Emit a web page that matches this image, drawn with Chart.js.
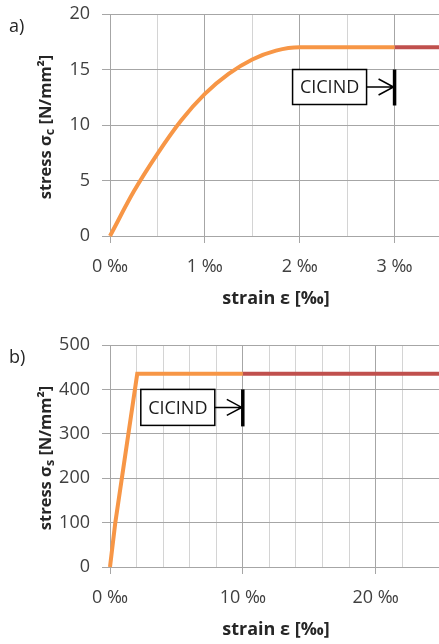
<!DOCTYPE html>
<html>
<head>
<meta charset="utf-8">
<script src="https://cdn.jsdelivr.net/npm/chart.js@4.4.1/dist/chart.umd.min.js"></script>
<style>
  html, body { margin: 0; padding: 0; background: #fff; overflow: hidden; }
  .panel { position: absolute; left: 0; }
</style>
</head>
<body>
<div class="panel" style="top:0"><canvas id="chartA" width="442" height="320"></canvas></div>
<div class="panel" style="top:320px"><canvas id="chartB" width="442" height="324"></canvas></div>
<script>
// a) concrete stress-strain (values read off the picture)
const concreteStrain = [0, 0.25, 0.5, 0.75, 1, 1.25, 1.5, 1.75, 2, 3];
const concreteStress = [0, 4.0, 7.4, 10.4, 12.8, 14.6, 15.9, 16.7, 17, 17];
const concreteTailStrain = [3, 3.5];
const concreteTailStress = [17, 17];

// b) steel stress-strain
const steelStrain = [0, 0.4, 2.05, 10];
const steelStress = [0, 100, 435, 435];
const steelTailStrain = [10, 25];
const steelTailStress = [435, 435];

// where the CICIND curve stops
const cicindLimit = [3, 10];
const cicindLabel = 'CICIND';

const unit = ' ‰';
const xTitle = 'strain ε [‰]';

const ORANGE = '#f79646';
const RED = '#c0504d';
const GRID = '#a6a6a6';
const MINOR = '#d4d4d4';
const FONT = "'Open Sans', sans-serif";

function toPoints(xs, ys) {
  return xs.map((x, i) => ({ x: x, y: ys[i] }));
}

// no auto padding from tick labels, plot box is fixed
function noPad(s) {
  s.paddingTop = 0;
  s.paddingBottom = 0;
  s.paddingLeft = 0;
  s.paddingRight = 0;
}

// draws panel letter, axis titles (with subscript) and the CICIND marker
const decorPlugin = {
  id: 'decor',
  afterDatasetsDraw(chart, args, opts) {
    const ctx = chart.ctx;
    const area = chart.chartArea;
    const xs = chart.scales.x;
    const ys = chart.scales.y;
    ctx.save();

    // CICIND box + arrow + bar
    const bx = xs.getPixelForValue(opts.limit);
    const top = ys.getPixelForValue(opts.boxTop);
    const h = opts.boxH;
    const w = 74;
    const right = bx - 28;
    const left = right - w;
    const mid = top + h / 2;
    ctx.fillStyle = '#fff';
    ctx.fillRect(left, top, w, h);
    ctx.strokeStyle = '#000';
    ctx.lineWidth = 1.5;
    ctx.strokeRect(left, top, w, h);
    ctx.fillStyle = '#1a1a1a';
    ctx.font = '18px ' + FONT;
    ctx.textAlign = 'center';
    ctx.textBaseline = 'middle';
    ctx.fillText(cicindLabel, left + w / 2, mid + 1);
    ctx.beginPath();
    ctx.moveTo(right, mid);
    ctx.lineTo(bx - 1, mid);
    ctx.moveTo(bx - 16, mid - 8);
    ctx.lineTo(bx - 1, mid);
    ctx.lineTo(bx - 16, mid + 8);
    ctx.stroke();
    ctx.lineWidth = 3.5;
    ctx.beginPath();
    ctx.moveTo(bx, top);
    ctx.lineTo(bx, top + h + 1);
    ctx.stroke();

    // panel letter
    ctx.fillStyle = '#262626';
    ctx.font = '18px ' + FONT;
    ctx.textAlign = 'left';
    ctx.fillText(opts.letter, 9, area.top + 13);

    // x title
    ctx.font = 'bold 18px ' + FONT;
    ctx.textAlign = 'center';
    ctx.fillText(xTitle, 276, area.bottom + 63);

    // y title, rotated, with subscript
    const big = 'bold 16.5px ' + FONT;
    const small = 'bold 12.5px ' + FONT;
    const parts = [['stress σ', big, 0], [opts.sub, small, 4], [' [N/mm²]', big, 0]];
    let total = 0;
    parts.forEach(p => { ctx.font = p[1]; total += ctx.measureText(p[0]).width; });
    ctx.translate(46, (area.top + area.bottom) / 2 + 2);
    ctx.rotate(-Math.PI / 2);
    ctx.textAlign = 'left';
    let cx = -total / 2;
    parts.forEach(p => {
      ctx.font = p[1];
      ctx.fillText(p[0], cx, p[2]);
      cx += ctx.measureText(p[0]).width;
    });
    ctx.restore();
  }
};

function makeChart(id, cfg) {
  return new Chart(document.getElementById(id), {
    type: 'line',
    data: {
      datasets: [
        { data: cfg.main, borderColor: ORANGE, borderWidth: 4, pointRadius: 0,
          cubicInterpolationMode: cfg.smooth ? 'monotone' : 'default', tension: 0, clip: 4, order: 1 },
        { data: cfg.tail, borderColor: RED, borderWidth: 4, pointRadius: 0, clip: 4, order: 2 }
      ]
    },
    options: {
      responsive: false,
      animation: false,
      layout: { autoPadding: false, padding: { top: cfg.padTop, left: 0, right: 0, bottom: 0 } },
      plugins: {
        legend: { display: false },
        tooltip: { enabled: false },
        decor: cfg.decor
      },
      scales: {
        x: {
          type: 'linear',
          min: 0,
          max: cfg.xMax,
          afterFit: s => { s.height = cfg.xHeight; noPad(s); },
          border: { color: GRID },
          grid: {
            color: c => cfg.isMajor(c.tick.value) ? GRID : MINOR,
            tickColor: c => cfg.isMajor(c.tick.value) ? GRID : 'rgba(0,0,0,0)',
            tickLength: 7
          },
          ticks: {
            stepSize: cfg.xStep,
            autoSkip: false,
            maxRotation: 0,
            padding: 13,
            color: '#404040',
            font: { family: FONT, size: 18 },
            callback: v => cfg.isMajor(v) && v < cfg.xMax ? Math.round(v) + unit : ''
          }
        },
        y: {
          min: 0,
          max: cfg.yMax,
          afterFit: s => { s.width = 110; noPad(s); },
          border: { color: GRID },
          grid: { color: GRID, tickColor: GRID, tickLength: 8 },
          ticks: {
            stepSize: cfg.yStep,
            padding: 12,
            color: '#404040',
            font: { family: FONT, size: 18 }
          }
        }
      }
    },
    plugins: [decorPlugin]
  });
}

makeChart('chartA', {
  main: toPoints(concreteStrain, concreteStress),
  tail: toPoints(concreteTailStrain, concreteTailStress),
  smooth: true,
  padTop: 14,
  xHeight: 84,
  xMax: 3.5,
  xStep: 0.5,
  yMax: 20,
  yStep: 5,
  isMajor: v => Math.abs(v - Math.round(v)) < 1e-6,
  decor: { limit: cicindLimit[0], boxTop: 15, boxH: 35, letter: 'a)', sub: 'c' }
});

makeChart('chartB', {
  main: toPoints(steelStrain, steelStress),
  tail: toPoints(steelTailStrain, steelTailStress),
  smooth: false,
  padTop: 25,
  xHeight: 77,
  xMax: 25,
  xStep: 2,
  yMax: 500,
  yStep: 100,
  isMajor: v => v % 10 === 0,
  decor: { limit: cicindLimit[1], boxTop: 400, boxH: 36, letter: 'b)', sub: 's' }
});
</script>
</body>
</html>
